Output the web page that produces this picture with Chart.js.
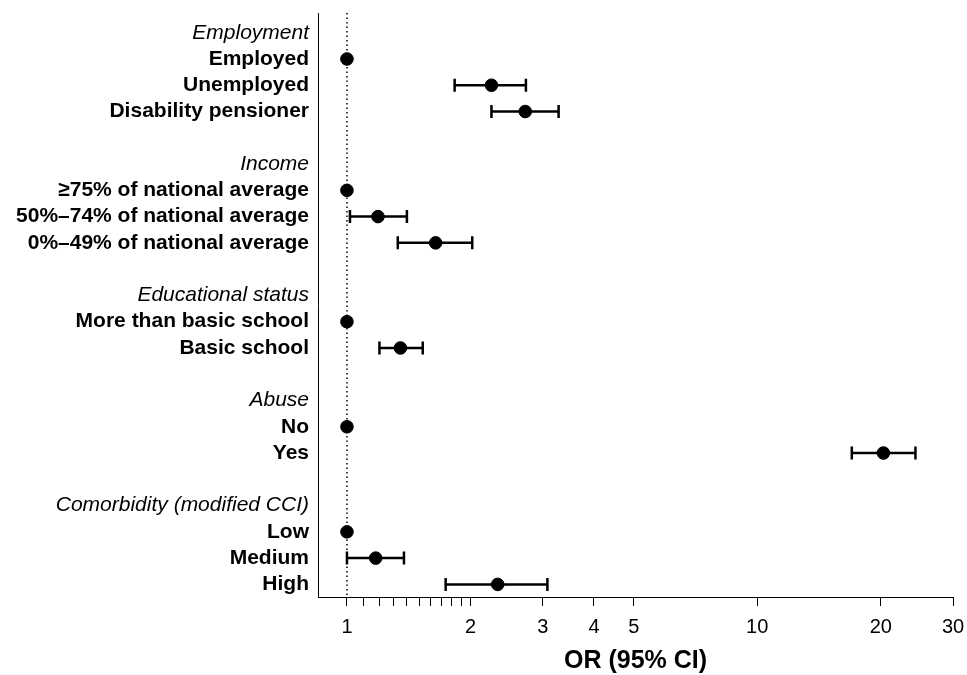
<!DOCTYPE html>
<html>
<head>
<meta charset="utf-8">
<script src="https://cdn.jsdelivr.net/npm/chart.js@4/dist/chart.umd.min.js"></script>
<style>
  html, body { margin: 0; padding: 0; background: #fff; }
  #wrap { width: 967px; height: 675px; }
</style>
</head>
<body>
<div id="wrap"><canvas id="c"></canvas></div>
<script>
// linhas do forest plot (cabeçalhos em itálico, categorias em negrito, "" = linha vazia)
var ROW_LABELS = [
  "Employment", "Employed", "Unemployed", "Disability pensioner", "",
  "Income", "≥75% of national average", "50%–74% of national average", "0%–49% of national average", "",
  "Educational status", "More than basic school", "Basic school", "",
  "Abuse", "No", "Yes", "",
  "Comorbidity (modified CCI)", "Low", "Medium", "High"
];
var HEADER_ROWS = [0, 5, 10, 14, 18];

var OR_VALUES = [null, 1, 2.25, 2.72, null, null, 1, 1.19, 1.645, null, null, 1, 1.35, null, null, 1, 20.3, null, null, 1, 1.175, 2.33];
var CI_LOW    = [null, null, 1.83, 2.25, null, null, null, 1.017, 1.33, null, null, null, 1.20, null, null, null, 17.0, null, null, null, 1.0, 1.74];
var CI_HIGH   = [null, null, 2.73, 3.28, null, null, null, 1.40, 2.02, null, null, null, 1.53, null, null, null, 24.3, null, null, null, 1.377, 3.08];

var X_TICKS = [1, 1.1, 1.2, 1.3, 1.4, 1.5, 1.6, 1.7, 1.8, 1.9, 2, 3, 4, 5, 10, 20, 30];
var X_TICK_LABELS = { 1: "1", 2: "2", 3: "3", 4: "4", 5: "5", 10: "10", 20: "20", 30: "30" };

var FONT = "'Liberation Sans', Arial, sans-serif";
var Y_MIN = -0.75, Y_MAX = 21.48;

var pontos = [];
for (var i = 0; i < OR_VALUES.length; i++) {
  if (OR_VALUES[i] !== null) pontos.push({ x: OR_VALUES[i], y: i });
}

// barras de IC desenhadas com as escalas do gráfico
var errorBars = {
  id: "errorBars",
  afterDatasetsDraw: function (chart) {
    var xs = chart.scales.x, ys = chart.scales.y, ctx = chart.ctx;
    ctx.save();
    ctx.strokeStyle = "#000";
    ctx.lineWidth = 2.5;
    for (var i = 0; i < CI_LOW.length; i++) {
      if (CI_LOW[i] === null) continue;
      var x1 = xs.getPixelForValue(CI_LOW[i]);
      var x2 = xs.getPixelForValue(CI_HIGH[i]);
      var y = ys.getPixelForValue(i);
      ctx.beginPath();
      ctx.moveTo(x1, y); ctx.lineTo(x2, y);
      ctx.moveTo(x1, y - 6.5); ctx.lineTo(x1, y + 6.5);
      ctx.moveTo(x2, y - 6.5); ctx.lineTo(x2, y + 6.5);
      ctx.stroke();
    }
    ctx.restore();
  }
};

new Chart(document.getElementById("c"), {
  type: "scatter",
  data: {
    datasets: [
      {
        type: "line",
        data: [{ x: 1, y: Y_MIN }, { x: 1, y: Y_MAX }],
        borderColor: "#000",
        borderWidth: 1.5,
        borderDash: [1.5, 3],
        pointRadius: 0,
        order: 2
      },
      {
        data: pontos,
        backgroundColor: "#000",
        borderColor: "#000",
        pointRadius: 6.3,
        pointHoverRadius: 6.3,
        order: 1
      }
    ]
  },
  options: {
    responsive: true,
    maintainAspectRatio: false,
    animation: false,
    layout: { padding: { top: 13, right: 14, left: 0, bottom: 0 } },
    plugins: { legend: { display: false }, tooltip: { enabled: false } },
    scales: {
      x: {
        type: "logarithmic",
        min: 0.85,
        max: 30,
        afterBuildTicks: function (s) {
          s.ticks = X_TICKS.map(function (v) { return { value: v }; });
        },
        afterFit: function (s) { s.height = 78; s.paddingLeft = 0; s.paddingRight = 0; },
        ticks: {
          autoSkip: false,
          maxRotation: 0,
          color: "#000",
          padding: 9,
          font: { family: FONT, size: 20 },
          callback: function (v) { return X_TICK_LABELS[v] || ""; }
        },
        grid: { drawOnChartArea: false, drawTicks: true, tickLength: 9, color: "#000", lineWidth: 1 },
        border: { display: true, color: "#000", width: 1 },
        title: {
          display: true,
          text: "OR (95% CI)",
          color: "#000",
          font: { family: FONT, size: 25, weight: "bold", lineHeight: 1 },
          padding: { top: 10, bottom: 1 }
        }
      },
      y: {
        type: "linear",
        reverse: true,
        min: Y_MIN,
        max: Y_MAX,
        afterBuildTicks: function (s) {
          s.ticks = ROW_LABELS.map(function (t, i) { return { value: i }; });
        },
        afterFit: function (s) { s.width = 318; s.paddingTop = 0; s.paddingBottom = 0; },
        ticks: {
          autoSkip: false,
          color: "#000",
          padding: 9,
          font: function (ctx) {
            var v = ctx.tick ? ctx.tick.value : -1;
            if (HEADER_ROWS.indexOf(v) >= 0) return { family: FONT, size: 21, style: "italic" };
            return { family: FONT, size: 21, weight: "bold" };
          },
          callback: function (v) { return ROW_LABELS[v] || ""; }
        },
        grid: { drawOnChartArea: false, drawTicks: false },
        border: { display: true, color: "#000", width: 1 }
      }
    }
  },
  plugins: [errorBars]
});
</script>
</body>
</html>
